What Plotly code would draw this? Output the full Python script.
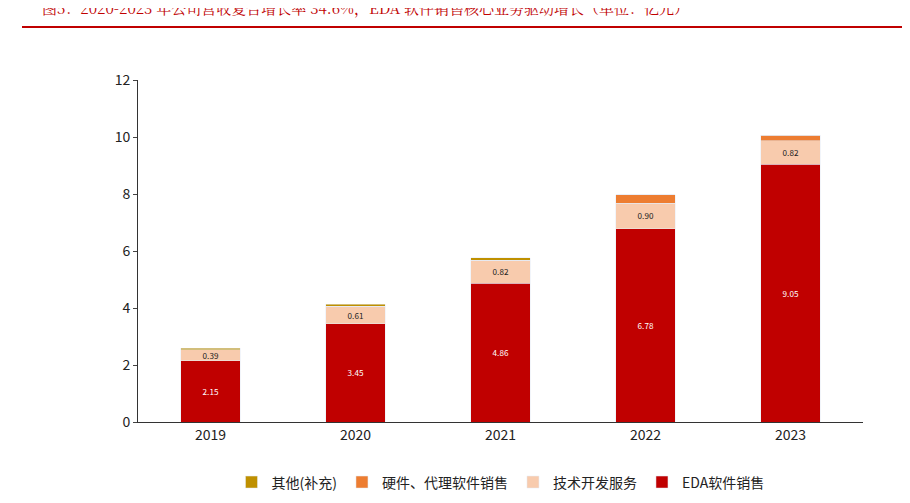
import plotly.graph_objects as go

# data (亿元)
years = ['2019', '2020', '2021', '2022', '2023']
eda = [2.15, 3.45, 4.86, 6.78, 9.05]
service = [0.39, 0.61, 0.82, 0.90, 0.82]
hardware = [0.0, 0.0, 0.0, 0.30, 0.20]
other = [0.05, 0.08, 0.08, 0.0, 0.0]

font = "Noto Sans CJK SC"
fig = go.Figure()
fig.add_bar(x=years, y=eda, name='EDA软件销售', marker_color='#C00000',
            text=[f'{v:.2f}' for v in eda], textposition='inside', insidetextanchor='middle',
            textfont=dict(color='white', size=15))
fig.add_bar(x=years, y=service, name='技术开发服务', marker_color='#F8CBAD',
            text=[f'{v:.2f}' for v in service], textposition='inside', insidetextanchor='middle',
            textfont=dict(color='#222222', size=15))
fig.add_bar(x=years, y=hardware, name='硬件、代理软件销售', marker_color='#ED7D31')
fig.add_bar(x=years, y=other, name='其他(补充)', marker_color='#BF9000')

fig.update_layout(
    barmode='stack', bargap=0.59, width=910, height=503,
    plot_bgcolor='white', paper_bgcolor='white',
    font=dict(family=font, size=13, color='#222222'),
    margin=dict(l=130, r=55, t=72, b=79),
    uniformtext=dict(minsize=8, mode='show'),
    legend=dict(orientation='h', x=0.5, xanchor='center', y=-0.13, yanchor='top',
                font=dict(size=14)),
    annotations=[dict(text='图5：2020-2023 年公司营收复合增长率 34.6%，EDA 软件销售核心业务驱动增长（单位：亿元）',
                      xref='paper', yref='paper', x=-0.135, y=1.175, xanchor='left', yanchor='bottom',
                      showarrow=False, font=dict(color='#C00000', size=15, family='Noto Serif CJK SC, ' + font))],
    shapes=[dict(type='line', xref='paper', yref='paper', x0=-0.16, x1=1.06, y0=1.155, y1=1.155,
                 line=dict(color='#C00000', width=2))],
)
fig.update_yaxes(range=[0, 12], dtick=2, showgrid=False, showline=True, linecolor='#333333',
                 ticks='outside', ticklen=4, tickfont=dict(size=14))
fig.update_xaxes(showline=True, linecolor='#333333', tickfont=dict(size=14))
fig.write_html("out.html")
